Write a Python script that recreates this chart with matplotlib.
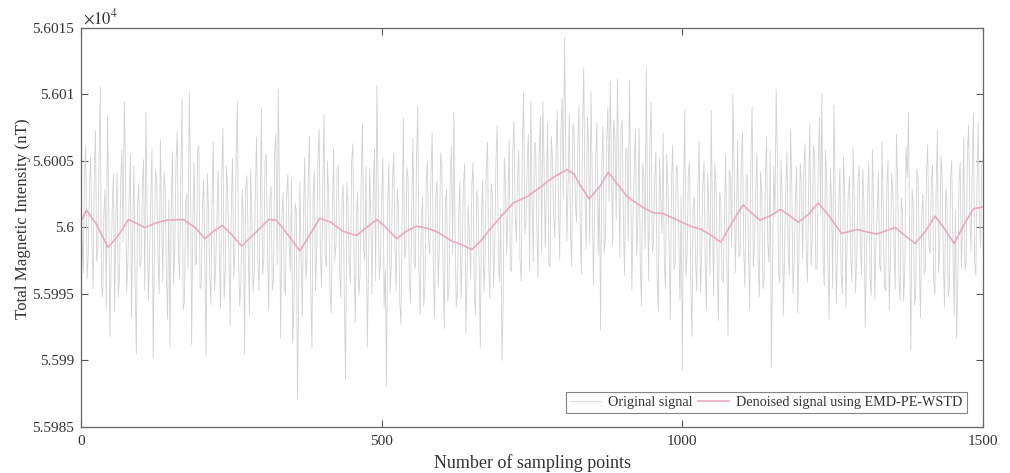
import numpy as np
import matplotlib
matplotlib.use("Agg")
import matplotlib.pyplot as plt
from matplotlib.ticker import FuncFormatter

# base level of the total field (nT); series below are deviations from it
base_nt = 56000.0

# original signal at samples 0, 4, 8, ... (deviation from base, nT)
orig_dev = [
    3.1, -3.4, 6.2, -2.1, 5.4, -4.6, 7.3, -1.8, 10.6, -5.2, 2.9, 8.4, -8.2, 1.5, -6.3, 4.1, -3.7, 5.8, 9.5, -4.9, 2.2, -6.8, 4.6, -9.5, 3.3,
    -2.6, 5.1, 8.7, -5.5, 1.9, -9.8, 4.4, -2.3, 6.6, -4.1, 3.0, -6.9, -9.0, 5.7, -1.4, 7.2, -3.8, 9.7, -5.6, 2.5, 10.2, -8.8, 4.9, -2.7, 6.1,
    -4.4, 3.6, -9.7, 1.2, -5.8, 6.4, -2.9, 4.3, -6.1, 7.5, -3.2, 2.4, -7.4, 5.2, -1.6, 9.5, -5.9, 2.8, -9.5, 3.9, -6.6, 1.1, -3.5, 6.8, -4.7,
    9.0, -2.4, 5.5, -6.2, 3.1, -4.0, 7.0, 10.4, -8.3, 2.6, -5.1, 4.0, -3.3, -8.7, 1.8, -12.9, 3.4, -6.7, 5.3, -2.2, 6.9, -9.1, 4.2, -1.7, 7.4,
    -4.5, 8.5, -3.0, 2.1, -6.4, 5.9, -1.3, 4.7, -5.3, 3.2, -11.4, 1.6, -4.2, 6.3, -7.1, 2.7, -3.6, 7.8, -2.5, -9.0, 4.5, -5.0, 6.0, 10.7, -3.9,
    2.0, -6.0, -11.9, 4.8, -2.8, 5.6, -4.8, 1.4, -7.3, 8.2, -1.9, 3.7, -5.7, 6.7, -3.1, 9.1, -6.5, 2.3, -4.3, 5.0, -2.0, 7.1, -6.8, 3.5, -1.2,
    4.6, -7.6, 2.9, -4.4, 6.1, 8.7, -6.0, 0.8, -5.4, 3.3, -7.9, 1.7, -3.8, 4.9, -6.5, 2.1, -9.0, 3.6, -2.4, 6.4, -5.3, 2.7, -1.5, 7.7, -4.1,
    -10.0, 5.2, -2.0, 6.6, -3.3, 8.0, -1.1, 5.8, -4.0, 10.2, 0.5, 7.0, 9.5, -2.6, 6.3, -3.8, 8.4, 9.5, -1.5, 7.9, -3.0, 5.1, -0.8, 8.8, -2.4,
    9.75, 14.3, -1.0, 8.6, -2.9, 7.3, 0.4, 9.2, -3.5, 12.0, -1.6, 6.1, 10.2, -4.3, 5.4, -2.1, -7.7, 7.6, -0.9, 9.0, 11.0, -1.4, 6.7, 11.2, -2.2,
    8.1, -3.6, 6.0, 11.1, -4.7, 4.4, -2.1, 7.5, -5.9, 3.8, 12.0, -4.0, 9.4, -1.2, 5.7, -6.3, 2.5, 7.1, -4.6, 3.1, -6.9, 6.2, -2.7, 4.3, -5.5,
    -10.7, 8.8, -1.8, 4.9, -8.2, 2.3, -4.8, 6.5, -2.3, 5.0, -6.2, 1.3, 8.8, -5.1, 3.2, -7.0, 1.9, -4.2, 5.4, -8.2, 3.8, 10.1, -3.4, 6.6, -2.0,
    7.2, -4.5, 4.0, -6.1, 9.1, -1.5, 5.6, -5.2, 2.8, -3.9, 6.8, -2.6, -10.5, 4.6, 10.4, -3.3, 5.1, -6.6, 3.0, -1.9, 7.4, -5.0, 2.2, -6.4, 4.8,
    -2.3, 6.3, -4.1, 7.8, -1.0, 5.5, -3.0, 8.3, 10.1, -4.4, 3.6, -6.9, 2.0, 9.2, -5.7, 1.5, -3.4, 5.3, -6.0, 2.6, -2.1, 6.0, -4.9, 3.4, -1.3,
    4.4, -7.5, 2.4, -3.7, 5.9, -5.4, 1.1, -2.8, 6.5, -4.5, 3.1, -6.2, 4.1, -1.6, 7.0, -3.5, 2.2, -5.6, 6.1, 8.7, -9.2, 1.8, -5.1, 3.7, -6.8,
    2.5, -3.2, 6.2, -2.0, 4.7, -5.0, 7.3, -1.7, 3.9, -6.0, 2.0, -4.6, 5.0, -6.6, -8.3, 3.2, -3.0, 6.8, -2.4, 7.7, -1.8, 8.6, -3.6, 7.9, -1.5,
]

# original signal at samples 2, 6, 10, ... (deviation from base, nT)
orig_mid_dev = [
    -1.2, 4.5, -3.9, 2.7, -0.6, 3.8, -2.5, 5.1, -4.4, 0.9, -6.1, 2.3, -2.9, 4.0, 0.7, -5.2, 3.4, -1.1, 4.8, -2.6, 5.5, -0.3, -4.1, 1.6, -3.0,
    2.9, -4.7, 1.2, -2.0, 5.9, -1.6, 3.3, -5.0, 0.8, 4.2, -3.4, 2.1, 1.4, -4.3, 5.0, -2.2, 3.8, -6.2, 1.9, -3.1, 4.4, 0.2, -2.8, 6.0, -4.6,
    1.5, -2.7, 4.1, -3.6, 2.5, -4.8, 0.9, -1.9, 3.5, -5.3, 4.6, -2.0, 1.7, -3.8, 5.2, -2.4, -4.0, 0.6, 2.9, -1.5, 4.3, -4.9, 3.1, -2.2, 1.0,
    -3.5, 4.9, -1.2, 2.0, -4.7, 5.6, -2.8, 3.0, 0.5, -4.5, 2.4, -1.0, 3.7, -6.0, 1.3, -5.5, -2.1, 1.0, -3.9, 3.9, -4.2, 2.6, -4.8, 5.2, -1.8,
    2.8, -2.2, 5.0, -4.6, 1.1, -2.5, 4.3, -3.2, 2.2, -5.8, 3.4, -3.0, 4.9, -2.4, 0.6, -5.1, 3.9, -1.7, 4.6, -3.6, 0.8, 2.7, -4.0, 3.1, -2.6,
    5.3, -3.1, 1.8, -4.9, 3.6, -1.4, 2.9, -5.5, 0.7, -2.3, 4.5, -4.0, 1.6, -2.7, 5.4, -3.3, 0.4, -5.9, 3.2, -1.0, 4.1, -3.7, 2.4, -4.5, 5.6,
    -3.0, 2.0, -5.6, 3.9, -2.0, 0.3, -4.9, 3.5, -1.7, 4.8, -3.5, -0.8, 3.1, -5.2, 2.8, -2.6, 1.2, -4.8, 4.5, -2.9, 3.3, -4.5, 5.0, -2.7, 1.4,
    -5.8, 3.1, 1.4, -3.1, 5.7, 0.9, 3.8, -2.4, 6.2, -0.5, 4.6, -3.2, 2.3, 6.4, 0.2, 5.5, -1.9, 4.7, 2.8, -2.8, 6.9, 0.9, 5.8, 1.5, 7.1,
    2.1, 6.6, 3.3, -0.5, 7.8, 1.9, 5.6, 0.3, 7.1, 2.6, 8.4, -1.2, 4.0, 1.3, 7.9, 3.0, 4.7, -1.9, 6.2, 2.0, 5.0, 8.1, 0.6, 4.6, 7.5,
    0.2, 5.9, -1.0, 3.7, 0.9, 7.4, 0.5, -2.9, 4.8, -1.6, 2.7, 6.4, -1.9, 3.5, -3.8, 5.2, -0.4, -2.7, 5.5, -1.4, 3.6, -3.2, 4.7, -0.5, 2.4,
    2.6, -3.7, 4.2, -4.2, 1.8, -2.5, 3.3, -4.9, 2.9, -2.7, 4.1, -3.6, 0.9, 4.8, -2.9, 2.6, -3.8, 0.7, -2.6, 4.3, -1.4, 4.5, 0.8, -2.2, 5.0,
    -1.6, 3.5, -2.1, 5.1, -3.0, 2.7, -2.3, 4.2, -4.6, 3.9, -1.2, 5.8, -2.8, 0.8, 5.0, -4.2, 2.3, -1.5, 5.7, -3.6, 3.0, -2.6, 4.6, -1.7, 3.2,
    4.5, -1.8, 3.0, -2.9, 6.2, -3.2, 4.9, 1.0, -2.5, 5.8, -2.4, 4.5, -4.6, 3.2, -1.9, 4.4, -5.0, 2.5, -1.0, 3.8, -4.1, 1.7, -2.2, 4.6, -3.6,
    1.7, -2.6, 4.9, -5.1, 2.0, -1.1, 4.2, -3.3, 1.5, -4.8, 5.1, -2.3, 2.6, -4.6, 3.4, -5.5, 1.2, -2.9, 3.8, -1.7, 2.9, -5.8, 4.4, -2.3, 0.9,
    -3.5, 4.1, -1.4, 3.4, -4.2, 2.8, -3.4, 5.4, -2.6, 2.9, -5.2, 3.8, -2.1, 1.3, -4.4, 4.9, 0.4, -3.2, 5.3, 1.0, 4.3, -2.5, 3.3, 0.8, 5.0,
]

# denoised (EMD-PE-WSTD) curve: sample index / deviation from base (nT)
den_idx = [0, 9, 25, 45, 62, 79, 95, 106, 125, 142,
           170, 190, 206, 220, 235, 250, 267, 290, 312, 325,
           345, 364, 380, 397, 415, 436, 458, 475, 492, 505,
           525, 540, 558, 575, 591, 616, 633, 650, 665, 680,
           700, 719, 741, 760, 774, 790, 808, 820, 830, 845,
           863, 877, 893, 908, 918, 935, 952, 968, 990, 1013,
           1029, 1045, 1064, 1083, 1101, 1115, 1129, 1147, 1163, 1178,
           1193, 1210, 1226, 1245, 1265, 1290, 1323, 1354, 1370, 1387,
           1404, 1420, 1436, 1452, 1468, 1484, 1500]
den_dev = [0.45, 1.3, 0.3, -1.5, -0.6, 0.6, 0.25, 0.0, 0.35, 0.55,
           0.6, 0.0, -0.85, -0.3, 0.15, -0.5, -1.4, -0.4, 0.6, 0.55,
           -0.6, -1.75, -0.6, 0.7, 0.4, -0.3, -0.6, 0.0, 0.6, 0.1,
           -0.85, -0.3, 0.1, -0.05, -0.3, -1.0, -1.3, -1.65, -1.0, -0.15,
           0.9, 1.85, 2.3, 2.9, 3.4, 3.9, 4.35, 4.0, 3.2, 2.15,
           3.1, 4.15, 3.2, 2.35, 2.0, 1.5, 1.1, 1.05, 0.6, 0.1,
           -0.1, -0.5, -1.1, 0.4, 1.7, 1.1, 0.55, 0.9, 1.35, 0.9,
           0.4, 1.0, 1.85, 0.8, -0.45, -0.15, -0.5, 0.0, -0.6, -1.2,
           -0.3, 0.85, -0.1, -1.2, 0.2, 1.4, 1.55]

plt.rcParams['font.family'] = ['Liberation Serif', 'DejaVu Serif']
plt.rcParams['mathtext.fontset'] = 'stix'

# merge the two sample sets in index order
xa = np.arange(len(orig_dev)) * 4
xb = np.arange(len(orig_mid_dev)) * 4 + 2
xs = np.concatenate([xa, xb])
ys = np.concatenate([orig_dev, orig_mid_dev])
order = np.argsort(xs)
xs = xs[order]
ys = base_nt + ys[order]

den = base_nt + np.array(den_dev)

fig = plt.figure(figsize=(10.10, 4.73), dpi=100)
ax = fig.add_axes([0.0802, 0.0973, 0.8931, 0.8435])

ax.plot(xs, ys, color="#d2d2d2", linewidth=0.6, label="Original signal")
ax.plot(den_idx, den, color="#e9a9c0", linewidth=1.2, label="Denoised signal using EMD-PE-WSTD")

ax.set_xlim(0, 1500)
ax.set_ylim(55985, 56015)
ax.set_xticks([0, 500, 1000, 1500])
ax.set_yticks(np.arange(55985, 56016, 5))
ax.yaxis.set_major_formatter(FuncFormatter(lambda v, p: f"{v / 1e4:g}"))
ax.tick_params(direction="in", length=5, width=0.8, top=True, right=True,
               colors="#555555", labelcolor="#333333", labelsize=11)
ax.tick_params(axis="y", pad=5)
ax.tick_params(axis="x", pad=6)
for sp in ax.spines.values():
    sp.set_color("#666666")
    sp.set_linewidth(0.9)

ax.text(0.002, 1.0, r"$\times10^{4}$", transform=ax.transAxes, fontsize=12,
        color="#333333", ha="left", va="bottom")

ax.set_xlabel("Number of sampling points", fontsize=13, color="#333333", labelpad=4)
ax.set_ylabel("Total Magnetic Intensity (nT)", fontsize=12.2, color="#333333")
ax.yaxis.set_label_coords(-0.055, 0.522)

leg = ax.legend(loc="lower right", ncol=2, fontsize=10.2, frameon=True, fancybox=False,
                edgecolor="#666666", handlelength=2.2, handletextpad=0.5, borderpad=0.3,
                columnspacing=0.4, borderaxespad=0.0, bbox_to_anchor=(0.9823, 0.035))
leg.get_frame().set_linewidth(0.8)
for t in leg.get_texts():
    t.set_color("#333333")

fig.savefig("out.png", dpi=100)
